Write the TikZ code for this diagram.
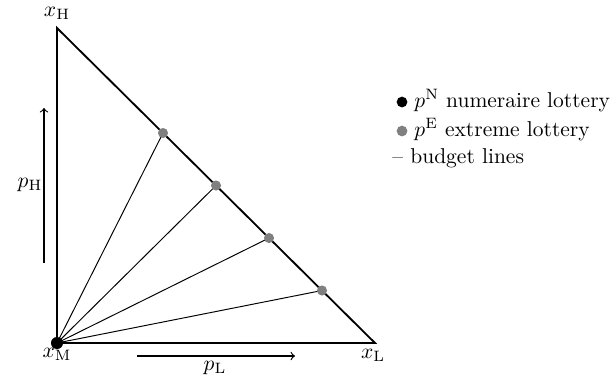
\documentclass[tikz,border=0pt]{standalone}
\begin{document}
\begin{tikzpicture}[x=0.465pt,y=-0.465pt,
  edge/.style={line width=0.85pt},
  spoke/.style={line width=0.45pt},
  axisarrow/.style={line width=0.55pt,->},
  gdot/.style={circle,fill=gray,inner sep=0pt,minimum size=4.7pt},
  bdot/.style={circle,fill=black,inner sep=0pt,minimum size=5.6pt},
  lab/.style={inner sep=0pt,font=\normalsize},
  leg/.style={inner sep=0pt,anchor=base west}]
\useasboundingbox (0,0) rectangle (615,379);
% vertices
\coordinate (H) at (57,28);
\coordinate (L) at (375,343);
\coordinate (M) at (57,343);
% triangle
\draw[edge,line join=miter] (H) -- (M) -- (L) -- cycle;
% extreme points
\path (H) -- (L) coordinate[pos=0.3333] (E1) coordinate[pos=0.5] (E2) coordinate[pos=0.6667] (E3) coordinate[pos=0.8333] (E4);
\foreach \i in {1,2,3,4} \draw[spoke] (M) -- (E\i);
\foreach \i in {1,2,3,4} \node[gdot] (D\i) at (E\i) {};
\node[bdot] (N) at (M) {};
% vertex labels
\node[lab] (lH) at (57,13) {$x_{\mathrm{H}}$};
\node[lab] (lM) at (57,354) {$x_{\mathrm{M}}$};
\node[lab] (lL) at (373,355) {$x_{\mathrm{L}}$};
% axis arrows
\coordinate (A1) at (44,263);
\coordinate (A2) at (44,108);
\draw[axisarrow] (A1) -- (A2);
\node[lab] (pH) at (30,185) {$p_{\mathrm{H}}$};
\coordinate (B1) at (137,356);
\coordinate (B2) at (295,356);
\draw[axisarrow] (B1) -- (B2);
\node[lab] (pL) at (215,368) {$p_{\mathrm{L}}$};
% legend
\node[bdot,minimum size=5pt] (k1) at (402,102) {};
\node[gdot,minimum size=5pt] (k2) at (402,131) {};
\node[leg] (g1) at (414,107) {$p^{\mathrm{N}}$ numeraire lottery};
\node[leg] (g2) at (414,136) {$p^{\mathrm{E}}$ extreme lottery};
\node[leg] (g3) at (392,163) {-- budget lines};
\end{tikzpicture}
\end{document}
